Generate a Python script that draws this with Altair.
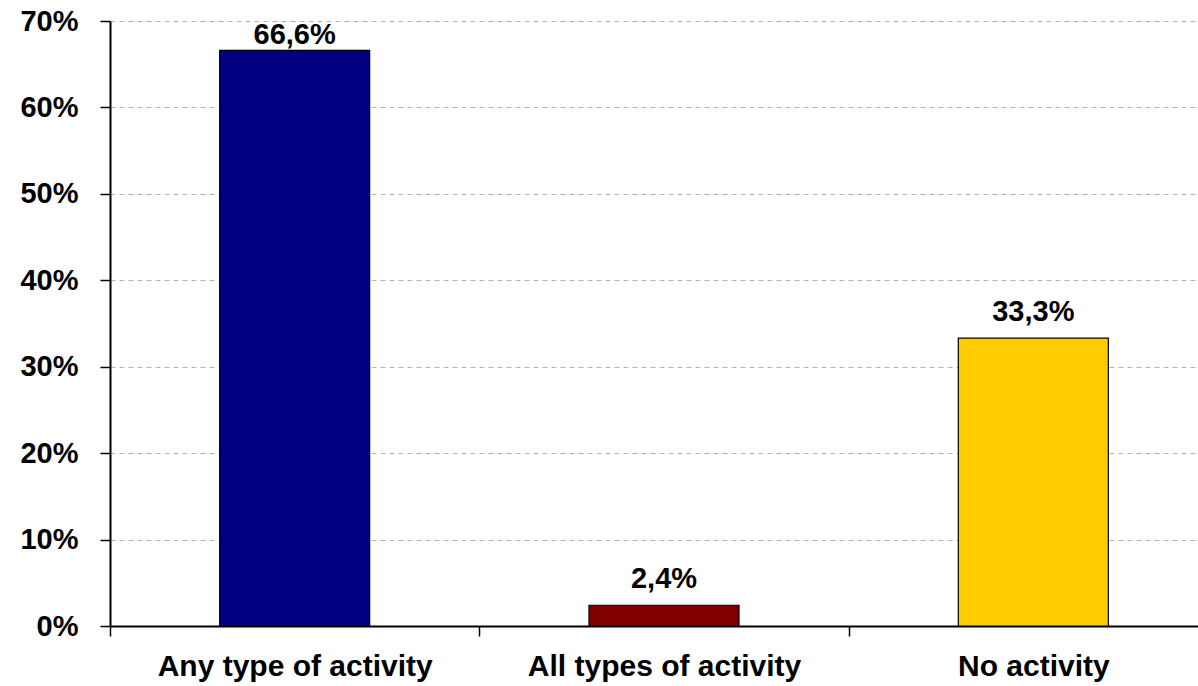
import altair as alt
import pandas as pd

# Share of respondents by activity type
categories = ["Any type of activity", "All types of activity", "No activity"]
shares = [66.6, 2.4, 33.3]
bar_colors = ["#000080", "#800000", "#FFCC00"]
y_ticks = [0, 10, 20, 30, 40, 50, 60, 70]

df = pd.DataFrame({"category": categories, "share": shares})

FONT = "Liberation Sans"
Y_MAX = 70

x_scale = alt.Scale(range=[0, 1108], paddingInner=0, paddingOuter=0)

x_enc = alt.X(
    "category:N",
    sort=categories,
    title=None,
    scale=x_scale,
    axis=alt.Axis(
        labelAngle=0,
        labelFont=FONT,
        labelFontSize=30,
        labelFontWeight="bold",
        labelColor="black",
        labelPadding=15,
        labelLimit=0,
        tickBand="extent",
        tickSize=10,
        tickColor="black",
        tickWidth=1.5,
        domainColor="black",
        domainWidth=2,
        grid=False,
    ),
)

y_scale = alt.Scale(domain=[0, Y_MAX], nice=False)

bars = (
    alt.Chart(df)
    .mark_bar(stroke="black", strokeWidth=1.2, size=150)
    .encode(
        x=x_enc,
        y=alt.Y(
            "share:Q",
            scale=y_scale,
            title=None,
            axis=alt.Axis(
                values=y_ticks,
                labelExpr="datum.value + '%'",
                labelFont=FONT,
                labelFontSize=29,
                labelFontWeight="bold",
                labelColor="black",
                labelPadding=22,
                tickSize=10,
                tickColor="black",
                tickWidth=1.5,
                domainColor="black",
                domainWidth=2,
                grid=True,
                gridColor="#b4b4b4",
                gridDash=[5, 4],
                gridWidth=1.2,
            ),
        ),
        color=alt.Color(
            "category:N",
            scale=alt.Scale(domain=categories, range=bar_colors),
            legend=None,
        ),
    )
)

# Value labels above the bars, kept inside the plot area near the top
labels = (
    alt.Chart(df)
    .transform_calculate(
        label="replace(format(datum.share, '.1f'), '.', ',') + '%'",
        label_pos=f"min(datum.share, {Y_MAX} - 4.6)",
    )
    .mark_text(
        font=FONT,
        fontSize=29,
        fontWeight="bold",
        color="black",
        baseline="alphabetic",
        dy=-17,
    )
    .encode(
        x=alt.X("category:N", sort=categories, scale=x_scale),
        y=alt.Y("label_pos:Q", scale=y_scale),
        text="label:N",
    )
)

chart = (
    alt.layer(bars, labels)
    .properties(
        width=1088,
        height=605,
        autosize=alt.AutoSizeParams(type="none"),
        padding={"left": 110, "top": 21, "right": 0, "bottom": 60},
        background="white",
    )
    .configure_view(stroke=None)
)

chart.save("out.html", embed_options={"renderer": "svg", "actions": False})
